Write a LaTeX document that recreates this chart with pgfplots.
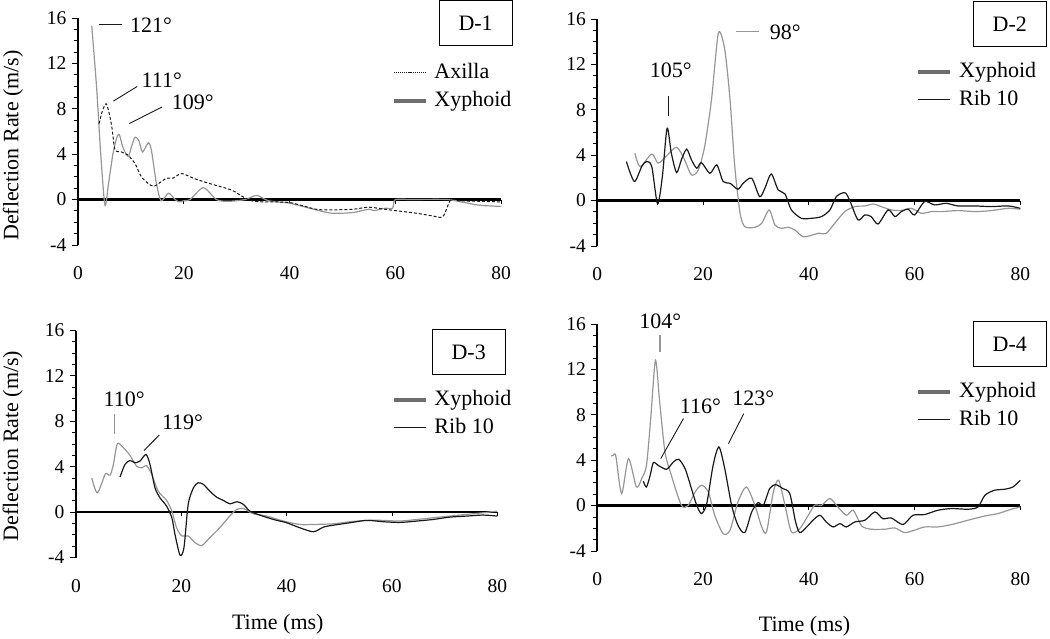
\documentclass[border=0pt]{standalone}
\usepackage{pgfplots}
\pgfplotsset{compat=1.18}
\usepackage{fontspec}
\setmainfont{Liberation Serif}
\definecolor{lg}{RGB}{150,150,150}
\definecolor{dg}{RGB}{110,110,110}
\definecolor{bk}{RGB}{25,25,25}
\newcommand{\bigf}{\fontsize{22}{24}\selectfont}
\pgfplotsset{
 panel/.style={
  scale only axis, width=423pt, height=227pt,
  xmin=0, xmax=80, ymin=-4, ymax=16,
  axis x line*=bottom, axis y line*=left,
  x axis line style={draw=none},
  y axis line style={line width=2.3pt,-,black},
  xtick={0,20,40,60,80}, ytick={-4,0,4,8,12,16}, minor y tick num=3,
  xtick style={draw=none},
  ytick style={black,line width=0.9pt},
  major tick length=-6pt, minor tick length=-4pt,
  tick label style={font=\fontsize{19.5}{19.5}\selectfont},
  /pgf/number format/assume math mode=true,
  yticklabel style={xshift=-8pt},
  xticklabel style={yshift=-18pt},
  clip=false,
  legend style={draw=none, fill=none, font=\bigf, inner sep=0pt, outer sep=0pt,
    row sep=5pt, column sep=6pt, anchor=north west,
    nodes={inner sep=1pt, text height=16pt, text depth=5pt}},
  legend cell align=left,
  legend image code/.code={\draw[##1] (0pt,0pt) -- (32pt,0pt);},
 },
 gcurve/.style={lg, line width=1.2pt, smooth, tension=0.45, forget plot},
 bcurve/.style={bk, line width=1.2pt, smooth, tension=0.45, forget plot},
 lead/.style={bk, line width=0.9pt, forget plot},
 leadg/.style={lg, line width=1.2pt, forget plot},
}
\begin{document}
\begin{tikzpicture}
\useasboundingbox (0,0) rectangle (1050pt,638pt);
% ---------------- D-1
\begin{axis}[panel, at={(78pt,393pt)}, anchor=south west,
  ylabel={Deflection Rate (m/s)},
  ylabel style={font=\bigf, at={(axis description cs:-0.154,0.438)}, anchor=center},
  legend style={at={(axis description cs:0.742,0.809)}}]
\addlegendimage{bk, line width=1pt, dash pattern=on 1.2pt off 0.9pt}
\addlegendentry{Axilla}
\addlegendimage{dg, line width=3.5pt}
\addlegendentry{Xyphoid}
\addplot[black, line width=2.5pt, forget plot] coordinates {(0,0) (80,0)};
\addplot[black, line width=0.8pt, ycomb, forget plot] coordinates {(20,-0.35) (40,-0.35) (60,-0.35) (80,-0.35)};
\addplot[gcurve] coordinates {(2.6,15.3)(3.5,10)(4.3,4)(5.1,-0.5)(5.8,1.5)(6.6,4)(7.3,5.4)(7.8,5.74)(8.5,4.6)(9.5,3.8)(10.2,4.8)(10.8,5.5)(11.5,5.2)(12.2,4.2)(13.3,5.0)(13.9,4.3)(14.8,1.5)(15.7,-0.1)(17.1,0.56)(18.2,0.1)(19.0,-0.2)(20,-0.1)(21.2,0)(23.7,1.05)(26.2,0)(28.4,-0.15)(31.6,0)(33.8,0.37)(36,-0.1)(40,-0.32)(45,-0.9)(48,-1.2)(52,-1.14)(55,-0.85)(56,-0.97)(58,-0.76)(59.5,-0.76)(60,0)(63,0)(66,0.02)(70,0)(73,-0.25)(76,-0.5)(80,-0.6)};
\addplot[bk, line width=1pt, dash pattern=on 3pt off 2pt, smooth, tension=0.45, forget plot] coordinates {(4.0,6.7)(4.6,7.8)(5.3,8.45)(5.8,7.8)(6.4,6.4)(7.0,4.4)(8.2,4.2)(9.5,3.9)(10.8,3.15)(12.0,2.0)(13.6,1.3)(14.5,1.2)(15.5,1.5)(16.8,1.9)(18.0,1.9)(19.6,2.3)(22,1.85)(25,1.4)(29.0,0.85)(31.0,0.3)(32.8,-0.1)(35,-0.2)(40,-0.26)(45,-0.85)(48,-0.9)(52,-0.85)(55,-0.67)(58,-0.85)(60,-0.97)(64,-1.2)(67,-1.43)(69,-1.5)(70.5,0)(72,-0.1)(76,-0.15)(80,-0.2)};
\addplot[lead] coordinates {(4.0,15.4)(8.3,15.4)};
\addplot[lead] coordinates {(6.7,8.68)(11.2,9.97)};
\addplot[lead] coordinates {(9.7,6.7)(15.9,8.16)};
\node[font=\bigf, anchor=west, inner sep=0pt] at (axis cs:9.8,15.4) {121°};
\node[font=\bigf, anchor=west, inner sep=0pt] at (axis cs:12.0,10.56) {111°};
\node[font=\bigf, anchor=west, inner sep=0pt] at (axis cs:17.7,8.6) {109°};
\node[draw, line width=0.9pt, font=\bigf, minimum width=73pt, minimum height=45pt] at (axis description cs:0.94,0.976) {D-1};
\end{axis}
% ---------------- D-2
\begin{axis}[panel, at={(597.3pt,392pt)}, anchor=south west,
  legend style={at={(axis description cs:0.755,0.818)}}]
\addlegendimage{dg, line width=3.5pt}
\addlegendentry{Xyphoid}
\addlegendimage{bk, line width=1.2pt}
\addlegendentry{Rib 10}
\addplot[black, line width=2.5pt, forget plot] coordinates {(0,0) (80,0)};
\addplot[black, line width=0.8pt, ycomb, forget plot] coordinates {(20,-0.35) (40,-0.35) (60,-0.35) (80,-0.35)};
\addplot[gcurve] coordinates {(7.1,4.18)(8.1,3.0)(10.3,4.1)(11.5,3.3)(13,3.9)(15.0,4.7)(16.5,3.6)(17.8,2.26)(19.1,2.7)(20.3,4.76)(21.6,8.9)(22.9,14.76)(24.1,13.3)(25.1,8.9)(26.0,3.0)(27.0,-1.1)(27.9,-2.3)(29.8,-2.35)(31.1,-2.0)(32.5,-0.82)(33.6,-2.15)(34.8,-2.44)(36.1,-2.35)(37.4,-2.6)(38.9,-3.18)(40.5,-3.06)(41.8,-2.88)(43.3,-2.88)(44.9,-2.0)(46.8,-0.97)(48.7,-0.53)(50.6,-0.47)(52.2,-0.3)(53.7,-0.53)(55.6,-0.82)(57.5,-0.88)(59.4,-0.68)(61.3,-1.12)(63.2,-0.97)(65.1,-0.97)(68.2,-0.88)(71.4,-0.97)(74.5,-0.88)(77.7,-0.68)(80,-0.76)};
\addplot[bcurve] coordinates {(5.5,3.44)(7.0,1.68)(8.4,3.0)(9.3,3.44)(10.3,3.0)(11.4,-0.3)(12.3,2.1)(13.2,6.38)(14.0,4.18)(15.0,2.47)(15.9,3.6)(16.9,4.53)(17.8,3.6)(18.8,2.85)(19.7,3.35)(21.3,2.4)(22.6,3.15)(23.8,1.68)(25.1,1.53)(26.6,1.0)(27.6,1.53)(29.2,1.97)(30.7,0.35)(31.7,1.1)(32.9,2.35)(34.2,0.94)(35.5,0.59)(36.7,-0.82)(38.6,-1.56)(40.5,-1.56)(42.4,-1.41)(44.0,-0.82)(45.2,0.35)(46.8,0.7)(47.7,0.06)(49.3,-1.7)(50.6,-1.26)(51.8,-1.41)(53.1,-2.06)(55.0,-0.82)(56.3,-1.41)(57.5,-0.97)(58.8,-0.76)(60.0,-1.26)(61.9,-0.09)(63.8,-0.38)(66.0,-0.24)(68.2,-0.47)(71.4,-0.47)(74.5,-0.53)(77.7,-0.47)(80,-0.68)};
\addplot[lead] coordinates {(13.4,9.23)(13.4,7.47)};
\addplot[leadg] coordinates {(26.2,14.9)(30.6,14.9)};
\node[font=\bigf, inner sep=0pt] at (axis cs:13.9,11.46) {105°};
\node[font=\bigf, anchor=west, inner sep=0pt] at (axis cs:32.6,14.8) {98°};
\node[draw, line width=0.9pt, font=\bigf, minimum width=73pt, minimum height=45pt] at (axis description cs:0.975,0.976) {D-2};
\end{axis}
% ---------------- D-3
\begin{axis}[panel, at={(76pt,80.5pt)}, anchor=south west, width=421.3pt,
  ylabel={Deflection Rate (m/s)},
  ylabel style={font=\bigf, at={(axis description cs:-0.15,0.491)}, anchor=center},
  xlabel={Time (ms)},
  xlabel style={font=\bigf, at={(axis description cs:0.479,-0.296)}, anchor=center},
  legend style={at={(axis description cs:0.750,0.745)}}]
\addlegendimage{dg, line width=3.5pt}
\addlegendentry{Xyphoid}
\addlegendimage{bk, line width=1.2pt}
\addlegendentry{Rib 10}
\addplot[black, line width=1.6pt, forget plot] coordinates {(0,0) (80,0)};
\addplot[black, line width=0.8pt, ycomb, forget plot] coordinates {(20,-0.35) (40,-0.35) (60,-0.35) (80,-0.35)};
\addplot[gcurve] coordinates {(3.0,3.0)(4.05,1.7)(5.5,3.3)(5.9,3.38)(6.5,3.26)(7.1,4.2)(7.85,6.02)(9.0,5.67)(10.25,5.0)(11.5,4.05)(12.5,3.9)(13.4,4.1)(14.4,3.3)(15.6,1.85)(17.2,1.03)(18.2,0.09)(19.1,-1.38)(20.1,-2.1)(21.3,-2.1)(22.6,-2.7)(23.9,-2.94)(25.4,-2.26)(27.3,-1.38)(29.2,-0.35)(30.5,0.23)(31.8,0.32)(33.7,-0.15)(36.2,-0.35)(39.4,-0.79)(42.5,-1.09)(45.1,-1.09)(48.9,-1.03)(52,-0.85)(55.2,-0.73)(58.4,-0.73)(61.5,-0.79)(64.7,-0.65)(67.8,-0.5)(71,-0.35)(74.2,-0.2)(77.3,-0.06)(80,0.09)};
\addplot[bcurve] coordinates {(8.35,3.08)(9.3,4.2)(10.25,4.55)(11.2,4.35)(12.15,4.5)(13.3,5.08)(14.05,4.2)(15.0,2.14)(15.95,1.26)(17.2,0.53)(18.2,-0.5)(18.8,-1.97)(19.75,-3.79)(20.5,-3.14)(21.3,0.68)(22.3,2.14)(23.2,2.58)(24.2,2.44)(25.4,1.85)(26.7,1.32)(28.0,1.03)(29.2,0.73)(30.6,0.91)(31.8,0.68)(33.0,0.09)(34.9,-0.26)(37.5,-0.65)(40,-0.94)(42.5,-1.38)(45.1,-1.73)(47,-1.32)(48.9,-1.15)(52,-0.94)(55.2,-0.73)(58.4,-0.85)(61.5,-0.91)(64.7,-0.79)(67.8,-0.65)(71,-0.44)(74.2,-0.35)(77.3,-0.26)(80,-0.35)};
\addplot[leadg] coordinates {(7.3,8.6)(7.3,6.84)};
\addplot[lead] coordinates {(12.9,5.43)(15.8,6.78)};
\node[font=\bigf, inner sep=0pt] at (axis cs:9.15,9.92) {110°};
\node[font=\bigf, anchor=west, inner sep=0pt] at (axis cs:16.3,7.87) {119°};
\node[draw, line width=0.9pt, font=\bigf, minimum width=73pt, minimum height=45pt] at (axis description cs:0.932,0.905) {D-3};
\end{axis}
% ---------------- D-4
\begin{axis}[panel, at={(597.3pt,87pt)}, anchor=south west,
  xlabel={Time (ms)},
  xlabel style={font=\bigf, at={(axis description cs:0.49,-0.332)}, anchor=center},
  legend style={at={(axis description cs:0.755,0.752)}}]
\addlegendimage{dg, line width=3.5pt}
\addlegendentry{Xyphoid}
\addlegendimage{bk, line width=1.2pt}
\addlegendentry{Rib 10}
\addplot[black, line width=2.5pt, forget plot] coordinates {(0,0) (80,0)};
\addplot[black, line width=0.8pt, ycomb, forget plot] coordinates {(20,-0.35) (40,-0.35) (60,-0.35) (80,-0.35)};
\addplot[gcurve] coordinates {(2.6,4.37)(3.0,4.43)(3.5,4.37)(4.6,1.06)(5.9,4.14)(7.4,1.64)(8.4,2.38)(9.3,3.55)(10.1,7.66)(11.0,12.8)(11.8,9.13)(12.8,4.73)(14.0,2.67)(15.9,0.03)(17.2,0.03)(18.5,1.2)(19.7,1.79)(21.0,1.2)(22.2,-0.85)(23.8,-2.47)(25.1,-2.17)(26.6,0.32)(28.2,1.64)(29.8,0.03)(31.1,-1.88)(32.0,-2.32)(33.3,1.2)(34.3,2.23)(35.5,0.03)(36.7,-2.32)(38.3,-2.03)(39.9,-0.85)(41.1,0.03)(42.4,0.03)(44.0,0.62)(45.5,-0.12)(47.1,-0.85)(48.4,-0.41)(50.0,-1.79)(51.8,-2.08)(54.4,-2.08)(56.3,-1.97)(58.1,-2.38)(60,-2.17)(61.9,-1.88)(64.4,-1.88)(67,-1.67)(70.1,-1.29)(73.3,-0.91)(75.8,-0.7)(78.3,-0.32)(80,-0.12)};
\addplot[bcurve] coordinates {(8.7,2.14)(9.3,1.64)(10.0,2.67)(10.6,3.79)(11.5,3.55)(13.1,3.2)(14.4,3.85)(15.4,4.08)(16.6,3.26)(17.8,1.5)(18.8,0.03)(19.7,-0.7)(20.7,0.18)(21.9,3.55)(23.0,5.17)(24.1,3.26)(25.4,0.03)(26.6,-1.73)(27.9,-2.38)(29.2,-0.56)(30.4,0.26)(31.4,0.03)(32.6,1.5)(33.7,1.85)(35.1,1.5)(36.4,1.06)(37.5,-1.44)(38.3,-2.38)(39.6,-1.88)(40.8,-1.29)(42.1,-0.85)(43.3,-1.44)(44.6,-1.88)(45.9,-1.59)(47.1,-1.88)(48.7,-1.44)(50.6,-1.29)(52.5,-0.56)(54.0,-1.15)(55.6,-1.09)(57.8,-1.67)(59.7,-0.85)(61.9,-0.79)(64.4,-0.41)(67,-0.26)(70.1,-0.32)(72,-0.12)(73.3,0.91)(75.1,1.35)(77,1.44)(78.6,1.64)(80,2.23)};
\addplot[leadg] coordinates {(11.85,15.0)(11.85,13.5)};
\addplot[lead] coordinates {(12.0,4.14)(16.3,7.67)};
\addplot[lead] coordinates {(24.8,5.46)(27.7,8.1)};
\node[font=\bigf, inner sep=0pt] at (axis cs:11.9,16.2) {104°};
\node[font=\bigf, anchor=west, inner sep=0pt] at (axis cs:15.6,8.78) {116°};
\node[font=\bigf, inner sep=0pt] at (axis cs:29.5,9.43) {123°};
\node[draw, line width=0.9pt, font=\bigf, minimum width=73pt, minimum height=45pt] at (axis description cs:0.975,0.912) {D-4};
\end{axis}
\end{tikzpicture}
\end{document}
